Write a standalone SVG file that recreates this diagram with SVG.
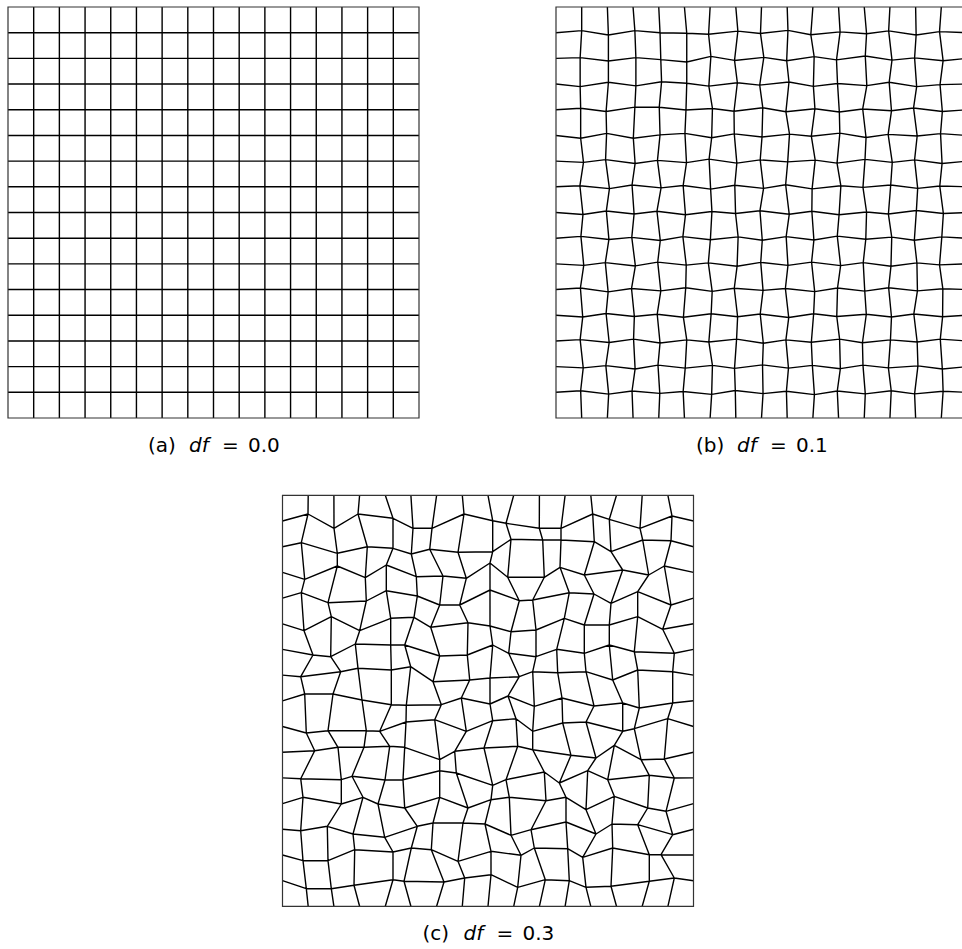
<svg xmlns="http://www.w3.org/2000/svg" width="962" height="949" viewBox="0 0 962 949">
<style>
.m{fill:none;stroke:#000;stroke-width:1.4;stroke-linejoin:round;vector-effect:non-scaling-stroke}
.f{fill:none;stroke:#333;stroke-width:1.2;vector-effect:non-scaling-stroke}
.t{font-family:"DejaVu Sans","Liberation Sans",sans-serif;font-size:20px;fill:#000}
.i{font-style:italic}
</style>
<rect width="962" height="949" fill="#fff"/>
<g id="panel-a" transform="translate(8,7) scale(2.56875)">
<path class="m" d="M0,10H160M0,20H160M0,30H160M0,40H160M0,50H160M0,60H160M0,70H160M0,80H160M0,90H160M0,100H160M0,110H160M0,120H160M0,130H160M0,140H160M0,150H160M10,0V160M20,0V160M30,0V160M40,0V160M50,0V160M60,0V160M70,0V160M80,0V160M90,0V160M100,0V160M110,0V160M120,0V160M130,0V160M140,0V160M150,0V160"/>
<rect class="f" x="0" y="0" width="160" height="160"/>
</g>
<g id="panel-b" transform="translate(556,7) scale(2.56875)">
<path class="m" d="M0,10L10,9.2 20.4,10.9 30.7,9.2 40.5,10 50.9,10.2 59.4,10.6 70.8,9.4 79.6,10.3 90.3,9.1 99.2,10.8 110.6,9.7 120.9,10.4 129.5,9.3 140.2,10.9 149.3,9.6 160,10
M0,20L9.4,19.7 20.4,21 31.1,19.7 40.8,20.5 50.9,21.4 60.3,19.2 69.5,20.8 80.9,19.6 89.8,20.9 100.5,19.3 109.2,20.6 120.4,19.1 130.8,20.7 139.6,19.8 150.7,20.9 160,20
M0,30L9.4,31 20.4,29.3 31.1,30.7 41.1,29.1 50.9,29.7 59.5,30.8 70.6,29.5 79.3,30.4 90.7,29.2 100.2,30.9 109.6,29.8 121,30.6 129.7,29.3 140.4,31 149.5,30.2 160,30
M0,40L9.6,39.4 19.5,40.7 30.7,39 40.2,39 50.6,40.1 60.9,39.5 69.3,40.6 80.5,39.2 89.5,40.8 100.8,39.6 110.3,40.9 119.4,39.7 130.6,40.4 139.2,39.3 150.4,40.7 160,40
M0,50L9.6,51.1 19.7,49.2 30.1,51.1 40.5,49.8 50.2,49.2 60.6,50.9 69.4,49.4 80.2,50.6 90.9,49.5 99.4,50.3 110.5,49.1 120.7,50.8 129.3,49.6 140.6,50.2 149.7,49.3 160,50
M0,60L10.7,60.5 19.3,59.4 30.8,60.9 39.5,59.7 50.8,60.6 59.6,59.2 70.4,60.8 79.5,59.5 90.2,60.3 100.9,59.6 109.4,60.8 120.3,59.3 130.9,60.5 139.6,59.5 150.3,60.9 160,60
M0,70L9.3,69.6 20.8,70.7 29.6,69.3 40.9,70.4 49.5,69.5 60.2,70.9 69.6,69.4 80.8,70.6 89.4,69.2 99.7,70.8 110.9,69.6 119.5,70.2 130.3,69.3 140.8,70.6 149.4,69.7 160,70
M0,80L10.5,80.8 19.6,79.4 30.4,80.6 39.3,79.5 50.4,80.9 60.7,79.6 69.9,80.4 79.4,79.3 90.8,80.7 99.6,79.5 110.2,80.9 120.9,79.8 129.4,80.6 140.3,79.2 150.8,80.4 160,80
M0,90L9.7,89.3 20.6,90.5 29.5,89.7 40.6,90.9 49.4,89.4 60.1,90.6 70.9,89.5 80.3,90.8 89.6,89.4 100.4,90.7 109.5,89.2 120.6,90.4 130.7,89.6 139.5,90.8 150.2,89.5 160,90
M0,100L10.8,100.6 19.2,99.5 30.9,100.8 39.6,99.3 50.7,100.5 59.3,99.6 70.5,100.9 79.7,99.4 90.3,100.6 99.5,99.3 110.8,100.7 119.6,99.5 130.4,100.9 140.5,99.6 149.3,100.4 160,100
M0,110L9.5,109.4 20.3,110.9 29.4,109.6 40.8,110.5 50.5,109.3 60.8,110.7 69.4,109.5 80.6,110.3 89.3,109.6 100.7,110.8 109.6,109.4 120.2,110.6 129.5,109.3 140.7,110.5 150.6,109.7 160,110
M0,120L10.4,120.7 19.5,119.3 30.5,120.5 39.4,119.6 49.6,120.8 60.4,119.4 70.7,120.6 79.5,119.5 90.6,120.9 100.3,119.4 109.3,120.5 120.8,119.6 130.6,120.7 139.3,119.5 150.5,120.6 160,120
M0,130L9.4,129.5 20.7,130.6 30.2,129.3 40.5,130.8 50.9,129.6 59.5,130.4 70.3,129.3 80.7,130.9 89.5,129.6 99.4,130.5 110.4,129.3 119.3,130.7 130.2,129.6 140.6,130.4 149.6,129.3 160,130
M0,140L10.6,140.5 19.4,139.6 30.8,140.9 39.7,139.4 50.3,140.6 60.9,139.5 69.5,140.7 80.4,139.3 90.5,140.6 99.8,139.5 110.7,140.8 119.5,139.4 129.4,140.5 140.9,139.7 150.4,140.9 160,140
M0,150L9.6,149.4 20.5,150.7 29.6,149.5 40.4,150.4 49.5,149.7 60.6,150.8 69.8,149.3 80.6,150.5 89.7,149.6 100.6,150.9 109.5,149.5 120.4,150.6 130.5,149.4 139.6,150.6 150.7,149.6 160,150
M10,0L10,9.2 9.4,19.7 9.4,31 9.6,39.4 9.6,51.1 10.7,60.5 9.3,69.6 10.5,80.8 9.7,89.3 10.8,100.6 9.5,109.4 10.4,120.7 9.4,129.5 10.6,140.5 9.6,149.4 10,160
M20,0L20.4,10.9 20.4,21 20.4,29.3 19.5,40.7 19.7,49.2 19.3,59.4 20.8,70.7 19.6,79.4 20.6,90.5 19.2,99.5 20.3,110.9 19.5,119.3 20.7,130.6 19.4,139.6 20.5,150.7 20,160
M30,0L30.7,9.2 31.1,19.7 31.1,30.7 30.7,39 30.1,51.1 30.8,60.9 29.6,69.3 30.4,80.6 29.5,89.7 30.9,100.8 29.4,109.6 30.5,120.5 30.2,129.3 30.8,140.9 29.6,149.5 30,160
M40,0L40.5,10 40.8,20.5 41.1,29.1 40.2,39 40.5,49.8 39.5,59.7 40.9,70.4 39.3,79.5 40.6,90.9 39.6,99.3 40.8,110.5 39.4,119.6 40.5,130.8 39.7,139.4 40.4,150.4 40,160
M50,0L50.9,10.2 50.9,21.4 50.9,29.7 50.6,40.1 50.2,49.2 50.8,60.6 49.5,69.5 50.4,80.9 49.4,89.4 50.7,100.5 50.5,109.3 49.6,120.8 50.9,129.6 50.3,140.6 49.5,149.7 50,160
M60,0L59.4,10.6 60.3,19.2 59.5,30.8 60.9,39.5 60.6,50.9 59.6,59.2 60.2,70.9 60.7,79.6 60.1,90.6 59.3,99.6 60.8,110.7 60.4,119.4 59.5,130.4 60.9,139.5 60.6,150.8 60,160
M70,0L70.8,9.4 69.5,20.8 70.6,29.5 69.3,40.6 69.4,49.4 70.4,60.8 69.6,69.4 69.9,80.4 70.9,89.5 70.5,100.9 69.4,109.5 70.7,120.6 70.3,129.3 69.5,140.7 69.8,149.3 70,160
M80,0L79.6,10.3 80.9,19.6 79.3,30.4 80.5,39.2 80.2,50.6 79.5,59.5 80.8,70.6 79.4,79.3 80.3,90.8 79.7,99.4 80.6,110.3 79.5,119.5 80.7,130.9 80.4,139.3 80.6,150.5 80,160
M90,0L90.3,9.1 89.8,20.9 90.7,29.2 89.5,40.8 90.9,49.5 90.2,60.3 89.4,69.2 90.8,80.7 89.6,89.4 90.3,100.6 89.3,109.6 90.6,120.9 89.5,129.6 90.5,140.6 89.7,149.6 90,160
M100,0L99.2,10.8 100.5,19.3 100.2,30.9 100.8,39.6 99.4,50.3 100.9,59.6 99.7,70.8 99.6,79.5 100.4,90.7 99.5,99.3 100.7,110.8 100.3,119.4 99.4,130.5 99.8,139.5 100.6,150.9 100,160
M110,0L110.6,9.7 109.2,20.6 109.6,29.8 110.3,40.9 110.5,49.1 109.4,60.8 110.9,69.6 110.2,80.9 109.5,89.2 110.8,100.7 109.6,109.4 109.3,120.5 110.4,129.3 110.7,140.8 109.5,149.5 110,160
M120,0L120.9,10.4 120.4,19.1 121,30.6 119.4,39.7 120.7,50.8 120.3,59.3 119.5,70.2 120.9,79.8 120.6,90.4 119.6,99.5 120.2,110.6 120.8,119.6 119.3,130.7 119.5,139.4 120.4,150.6 120,160
M130,0L129.5,9.3 130.8,20.7 129.7,29.3 130.6,40.4 129.3,49.6 130.9,60.5 130.3,69.3 129.4,80.6 130.7,89.6 130.4,100.9 129.5,109.3 130.6,120.7 130.2,129.6 129.4,140.5 130.5,149.4 130,160
M140,0L140.2,10.9 139.6,19.8 140.4,31 139.2,39.3 140.6,50.2 139.6,59.5 140.8,70.6 140.3,79.2 139.5,90.8 140.5,99.6 140.7,110.5 139.3,119.5 140.6,130.4 140.9,139.7 139.6,150.6 140,160
M150,0L149.3,9.6 150.7,20.9 149.5,30.2 150.4,40.7 149.7,49.3 150.3,60.9 149.4,69.7 150.8,80.4 150.2,89.5 149.3,100.4 150.6,109.7 150.5,120.6 149.6,129.3 150.4,140.9 150.7,149.6 150,160"/>
<rect class="f" x="0" y="0" width="160" height="160"/>
</g>
<g id="panel-c">
<path class="m" d="M282.5,521L308,514 334,528.3 358,514 393,518.3 413,528.3 432,528.3 464,514 492.7,520.7 506,523.3 539.3,528.3 561,528.3 592.7,514 609.3,519.3 640,528.3 672,516 693.5,521
M282.5,546.7L301.3,542.7 337.3,553.3 367.3,546.7 393,548.3 411.3,554 429.7,549.3 458,552.3 492.7,551.7 511,539.3 542.7,540 561,540 594.3,541.7 611,551.7 642.7,540 671,540.7 693.5,546.7
M282.5,572.4L304.7,579.3 337.3,566 365.3,577.7 386.3,565 416.3,576.7 443,576 466.3,578.3 490,563 507.7,577.3 544.3,577.3 560,567.3 584.3,575 622.7,570 648.7,575 664.3,566 693.5,572.4
M282.5,598.1L301.3,592.7 328,602.7 366.3,601 386.3,590.7 417.3,596 439.7,605 459.7,605 490,590 519.3,600.7 532.7,600 569.3,592.7 594,594 611,603.3 637.7,591.7 671,605 693.5,598.1
M282.5,623.8L304,630.7 331.3,616.7 359.7,630.7 390.7,618.3 414,617.3 430.7,627.3 468,622.7 490,626 511,631.7 536,630 564.3,618.3 584.3,625 609.3,625 637.7,616.7 662.7,629.3 693.5,623.8
M282.5,649.4L313,655 330.7,656.7 355.3,644 390.7,645 404.7,645 439.7,656 467.3,655 492.7,645 508.7,653.3 536,656.7 556.7,649.3 584.3,653.3 609.3,645 634.3,651.7 674.3,653.3 693.5,649.4
M282.5,675.1L300.7,676.7 340.7,671.7 358,668.3 391.3,670 410.7,666.7 433,681.7 469.7,680 490,678 519.3,676.7 532.7,671.7 557.7,672.7 586,671.7 612.7,680 637.7,670 672.7,671.7 693.5,675.1
M282.5,700.8L304.7,694 333,694 362,700 391.3,704.7 406.3,705.3 441.3,704.7 461.3,698 490,704 508,696 534.3,706.3 562,698 594,706 622.7,703 639.3,708 672.7,703 693.5,700.8
M282.5,726.5L306.3,733 328,730.7 366.3,730.7 379.7,731.3 406,722 434.7,719.7 466.3,731.3 492.7,720.7 516,718.7 532.7,731.3 562.7,723 586,722 622.7,731.3 634.3,728.7 667.7,718.7 693.5,726.5
M282.5,752.2L314.7,750.7 338,747.3 364,747.3 389.7,746.3 404.7,747.3 439.7,759.7 454.7,751.3 484,748 517.7,746.3 532.7,749.7 571,755.3 596,758 614.3,745.3 641,759.7 664.3,759 693.5,752.2
M282.5,777.9L300.7,778.7 341.3,779.7 352,776.3 385,780 403,779.7 439.7,770.7 456.3,773 492.7,785.3 506,779.7 544.3,772 559.3,783 587.7,770.7 607.7,779.7 649.3,775.3 674.3,778 693.5,777.9
M282.5,803.6L303,797.3 341.3,804 363,797.3 378,804 404.7,808 439.7,797.3 468,808 491,799.7 509.3,797.3 546,800.7 566,797.3 586,809.7 614.3,796.3 647.7,808 666,811.3 693.5,803.6
M282.5,829.3L300.7,830.7 327.3,826.3 353,834 384.7,837.3 417.3,826.3 433,823 463,823 485,824 511,835.3 531,829.7 566,822 596,834 612,824 637.7,824.7 672.7,834.7 693.5,829.3
M282.5,855L303,860.7 328,860.7 354.7,849.7 393,852 411.3,848 431.3,849.7 458,861.3 491,851.3 521,855.3 534.3,848 567.7,848.7 582.7,857.3 612.7,848 649.3,854.7 661,854.7 693.5,855
M282.5,880.7L306.3,888.7 331.3,888.7 354,885.3 393,879.7 404,881.3 444,882 464.7,878 491,874.7 517.7,887.3 545.3,879.7 569.3,880.7 586,887.3 611,886.3 649.3,881.3 674.3,878 693.5,880.7
M308.2,495.3L308,514 301.3,542.7 304.7,579.3 301.3,592.7 304,630.7 313,655 300.7,676.7 304.7,694 306.3,733 314.7,750.7 300.7,778.7 303,797.3 300.7,830.7 303,860.7 306.3,888.7 308.2,906.3
M333.9,495.3L334,528.3 337.3,553.3 337.3,566 328,602.7 331.3,616.7 330.7,656.7 340.7,671.7 333,694 328,730.7 338,747.3 341.3,779.7 341.3,804 327.3,826.3 328,860.7 331.3,888.7 333.9,906.3
M359.6,495.3L358,514 367.3,546.7 365.3,577.7 366.3,601 359.7,630.7 355.3,644 358,668.3 362,700 366.3,730.7 364,747.3 352,776.3 363,797.3 353,834 354.7,849.7 354,885.3 359.6,906.3
M385.3,495.3L393,518.3 393,548.3 386.3,565 386.3,590.7 390.7,618.3 390.7,645 391.3,670 391.3,704.7 379.7,731.3 389.7,746.3 385,780 378,804 384.7,837.3 393,852 393,879.7 385.3,906.3
M410.9,495.3L413,528.3 411.3,554 416.3,576.7 417.3,596 414,617.3 404.7,645 410.7,666.7 406.3,705.3 406,722 404.7,747.3 403,779.7 404.7,808 417.3,826.3 411.3,848 404,881.3 410.9,906.3
M436.6,495.3L432,528.3 429.7,549.3 443,576 439.7,605 430.7,627.3 439.7,656 433,681.7 441.3,704.7 434.7,719.7 439.7,759.7 439.7,770.7 439.7,797.3 433,823 431.3,849.7 444,882 436.6,906.3
M462.3,495.3L464,514 458,552.3 466.3,578.3 459.7,605 468,622.7 467.3,655 469.7,680 461.3,698 466.3,731.3 454.7,751.3 456.3,773 468,808 463,823 458,861.3 464.7,878 462.3,906.3
M488,495.3L492.7,520.7 492.7,551.7 490,563 490,590 490,626 492.7,645 490,678 490,704 492.7,720.7 484,748 492.7,785.3 491,799.7 485,824 491,851.3 491,874.7 488,906.3
M513.7,495.3L506,523.3 511,539.3 507.7,577.3 519.3,600.7 511,631.7 508.7,653.3 519.3,676.7 508,696 516,718.7 517.7,746.3 506,779.7 509.3,797.3 511,835.3 521,855.3 517.7,887.3 513.7,906.3
M539.4,495.3L539.3,528.3 542.7,540 544.3,577.3 532.7,600 536,630 536,656.7 532.7,671.7 534.3,706.3 532.7,731.3 532.7,749.7 544.3,772 546,800.7 531,829.7 534.3,848 545.3,879.7 539.4,906.3
M565.1,495.3L561,528.3 561,540 560,567.3 569.3,592.7 564.3,618.3 556.7,649.3 557.7,672.7 562,698 562.7,723 571,755.3 559.3,783 566,797.3 566,822 567.7,848.7 569.3,880.7 565.1,906.3
M590.8,495.3L592.7,514 594.3,541.7 584.3,575 594,594 584.3,625 584.3,653.3 586,671.7 594,706 586,722 596,758 587.7,770.7 586,809.7 596,834 582.7,857.3 586,887.3 590.8,906.3
M616.5,495.3L609.3,519.3 611,551.7 622.7,570 611,603.3 609.3,625 609.3,645 612.7,680 622.7,703 622.7,731.3 614.3,745.3 607.7,779.7 614.3,796.3 612,824 612.7,848 611,886.3 616.5,906.3
M642.2,495.3L640,528.3 642.7,540 648.7,575 637.7,591.7 637.7,616.7 634.3,651.7 637.7,670 639.3,708 634.3,728.7 641,759.7 649.3,775.3 647.7,808 637.7,824.7 649.3,854.7 649.3,881.3 642.2,906.3
M667.9,495.3L672,516 671,540.7 664.3,566 671,605 662.7,629.3 674.3,653.3 672.7,671.7 672.7,703 667.7,718.7 664.3,759 674.3,778 666,811.3 672.7,834.7 661,854.7 674.3,878 667.9,906.3"/>
<rect class="f" x="282.5" y="495.3" width="411" height="411"/>
</g>
<g id="labels" class="t">
<text x="148" y="452">(a)</text><text class="i" x="189" y="452">df</text><text x="222" y="452">=</text><text x="248" y="452">0.0</text>
<text x="696" y="452">(b)</text><text class="i" x="737" y="452">df</text><text x="770" y="452">=</text><text x="796" y="452">0.1</text>
<text x="422.5" y="940">(c)</text><text class="i" x="463.5" y="940">df</text><text x="496.5" y="940">=</text><text x="522.5" y="940">0.3</text>
</g>
</svg>
